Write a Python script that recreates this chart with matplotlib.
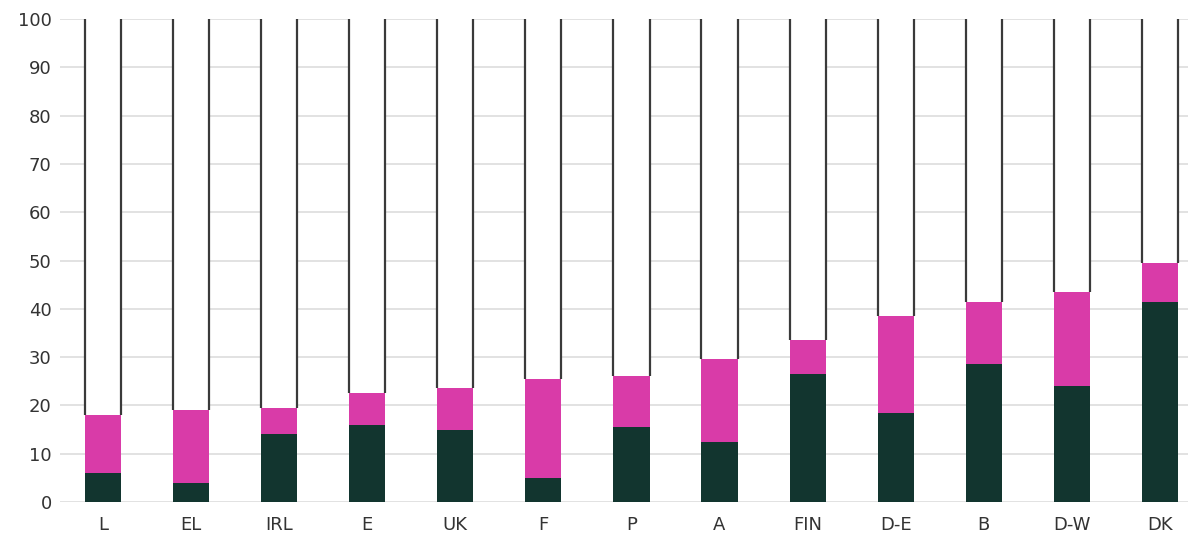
import matplotlib.pyplot as plt
import numpy as np

countries = ['L', 'EL', 'IRL', 'E', 'UK', 'F', 'P', 'A', 'FIN', 'D-E', 'B', 'D-W', 'DK']
dark_part = [6, 4, 14, 16, 15, 5, 15.5, 12.5, 26.5, 18.5, 28.5, 24, 41.5]
total_part = [18, 19, 19.5, 22.5, 23.5, 25.5, 26, 29.5, 33.5, 38.5, 41.5, 43.5, 49.5]

magenta_part = [t - d for t, d in zip(total_part, dark_part)]
white_part = [100 - t for t in total_part]

fig = plt.figure(figsize=(11.88, 5.45), dpi=100)
ax = fig.add_axes([0.0505, 0.079, 0.9495, 0.886])

x = np.arange(len(countries))
w = 0.41
ax.bar(x, dark_part, width=w, color='#12352f', zorder=3)
ax.bar(x, magenta_part, width=w, bottom=dark_part, color='#d93ba8', zorder=3)
ax.bar(x, white_part, width=w, bottom=total_part, color='white', zorder=2)
# only the side edges of the empty part are drawn
ax.vlines(np.concatenate([x - w / 2, x + w / 2]), total_part + total_part, 100,
          color='#3a3a3a', linewidth=1.6, zorder=4)

ax.set_ylim(0, 100)
ax.set_xlim(-0.49, 12.32)
ax.set_yticks(range(0, 101, 10))
ax.set_xticks(x)
ax.set_xticklabels(countries)
ax.yaxis.grid(True, color='#dddddd', linewidth=1.2, zorder=0)
ax.set_axisbelow(True)
for s in ax.spines.values():
    s.set_visible(False)
ax.tick_params(axis='both', length=0, labelsize=13, colors='#333333')
ax.tick_params(axis='x', pad=10)
ax.tick_params(axis='y', pad=6)

fig.savefig('out.png', dpi=100)
